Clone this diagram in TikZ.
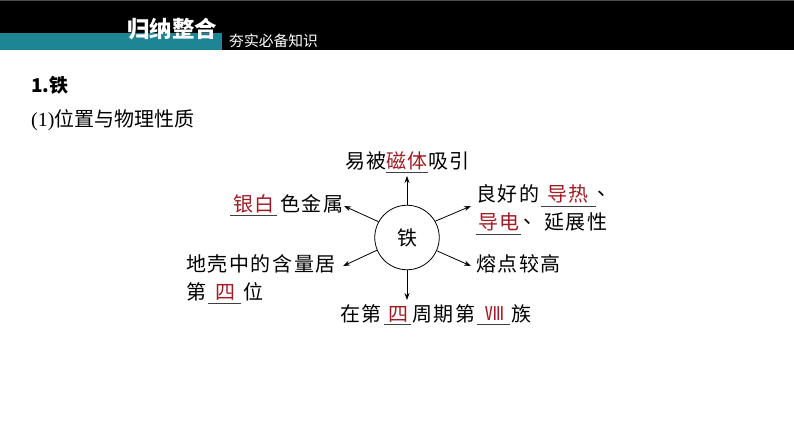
\documentclass[tikz,border=0pt]{standalone}
\usepackage{fontspec}
\usetikzlibrary{arrows.meta}
\setmainfont{Liberation Serif}
\newfontfamily\cjk[LetterSpace=8]{Noto Sans CJK SC}
\newfontfamily\cjktight{Noto Sans CJK SC}
\definecolor{barteal}{HTML}{1E8595}
\definecolor{answerred}{HTML}{A01C24}
\tikzset{
	txt/.style={anchor=west,text=black,font=\fontsize{20}{20}\cjk},
	ans/.style={txt,text=answerred},
	head/.style={anchor=west,text=black,font=\fontsize{20}{20}\cjktight},
	blank/.style={black!75,line width=0.9pt},
	ray/.style={-{Stealth[length=7pt,width=5pt]},black,line width=0.8pt}
}
\begin{document}
\begin{tikzpicture}[x=1pt,y=1pt]
				\tikzstyle{every node}+=[inner sep=0pt]
				\useasboundingbox (0,0) rectangle (794,-447);
				\fill [black] (0,0) rectangle (794,-50);
				\fill [black!70] (0,0) rectangle (794,-1);
				\fill [barteal] (0,-33) rectangle (222,-50);
				\node [anchor=west,text=white,font=\fontsize{22.5}{22.5}\cjktight\bfseries] (title) at (127,-29) {归纳整合};
				\node [anchor=west,text=white,font=\fontsize{14.8}{15}\cjktight] (subtitle) at (229,-41) {夯实必备知识};
				\node [head,font=\fontsize{19}{19}\cjktight\bfseries] (heading) at (31,-85) {1.铁};
				\node [head] (subheading) at (31,-120) {{\rmfamily (1)}位置与物理性质};
				\node [circle,draw=black,line width=0.8pt,minimum size=64.5pt,font=\fontsize{20}{20}\cjktight] (iron) at (407,-237.5) {\raisebox{-3pt}{铁}};
				\coordinate (upend) at (407,-176);
				\coordinate (leftupend) at (344,-206);
				\coordinate (leftdownend) at (343,-266);
				\coordinate (rightupend) at (471,-206);
				\coordinate (rightdownend) at (471,-266);
				\coordinate (downend) at (407,-300);
				\draw [ray] (iron.90) -- (upend);
				\draw [ray] (iron.151) -- (leftupend);
				\draw [ray] (iron.203) -- (leftdownend);
				\draw [ray] (iron.30) -- (rightupend);
				\draw [ray] (iron.-24) -- (rightdownend);
				\draw [ray] (iron.-90) -- (downend);
				\node [txt] (easy) at (345,-161) {易被};
				\node [ans] (magnet) at (386,-161) {磁体};
				\node [txt] (attract) at (428,-161) {吸引};
				\draw [blank] (magnet.west |- 0,-172) -- (attract.west |- 0,-172);
				\node [ans] (silver) at (233,-204) {银白};
				\node [txt] (metal) at (280,-204) {色金属};
				\draw [blank] (230,-215) -- (277,-215);
				\node [txt] (crust) at (186,-264) {地壳中的含量居};
				\node [txt] (rank) at (186,-292) {第};
				\node [ans] (four) at (215,-292) {四};
				\node [txt] (place) at (243,-292) {位};
				\draw [blank] (208,-303) -- (241,-303);
				\node [txt] (period) at (340,-314) {在第};
				\node [ans] (fourb) at (388,-314) {四};
				\node [txt] (group) at (412,-314) {周期第};
				\node [ans,font=\fontsize{19}{19}\cjktight] (eight) at (485,-314) {Ⅷ};
				\node [txt] (family) at (511,-314) {族};
				\draw [blank] (384,-324) -- (411,-324);
				\draw [blank] (477,-324) -- (510,-324);
				\node [txt] (good) at (476,-194) {良好的};
				\node [ans] (heat) at (547,-194) {导热};
				\node [txt] (commaa) at (597,-194) {、};
				\draw [blank] (541,-206) -- (596,-206);
				\node [ans] (electric) at (478,-222) {导电};
				\node [txt] (commab) at (523,-222) {、};
				\node [txt] (ductile) at (544,-222) {延展性};
				\draw [blank] (476,-234) -- (521,-234);
				\node [txt] (melt) at (476,-264) {熔点较高};
			\end{tikzpicture}
\end{document}
